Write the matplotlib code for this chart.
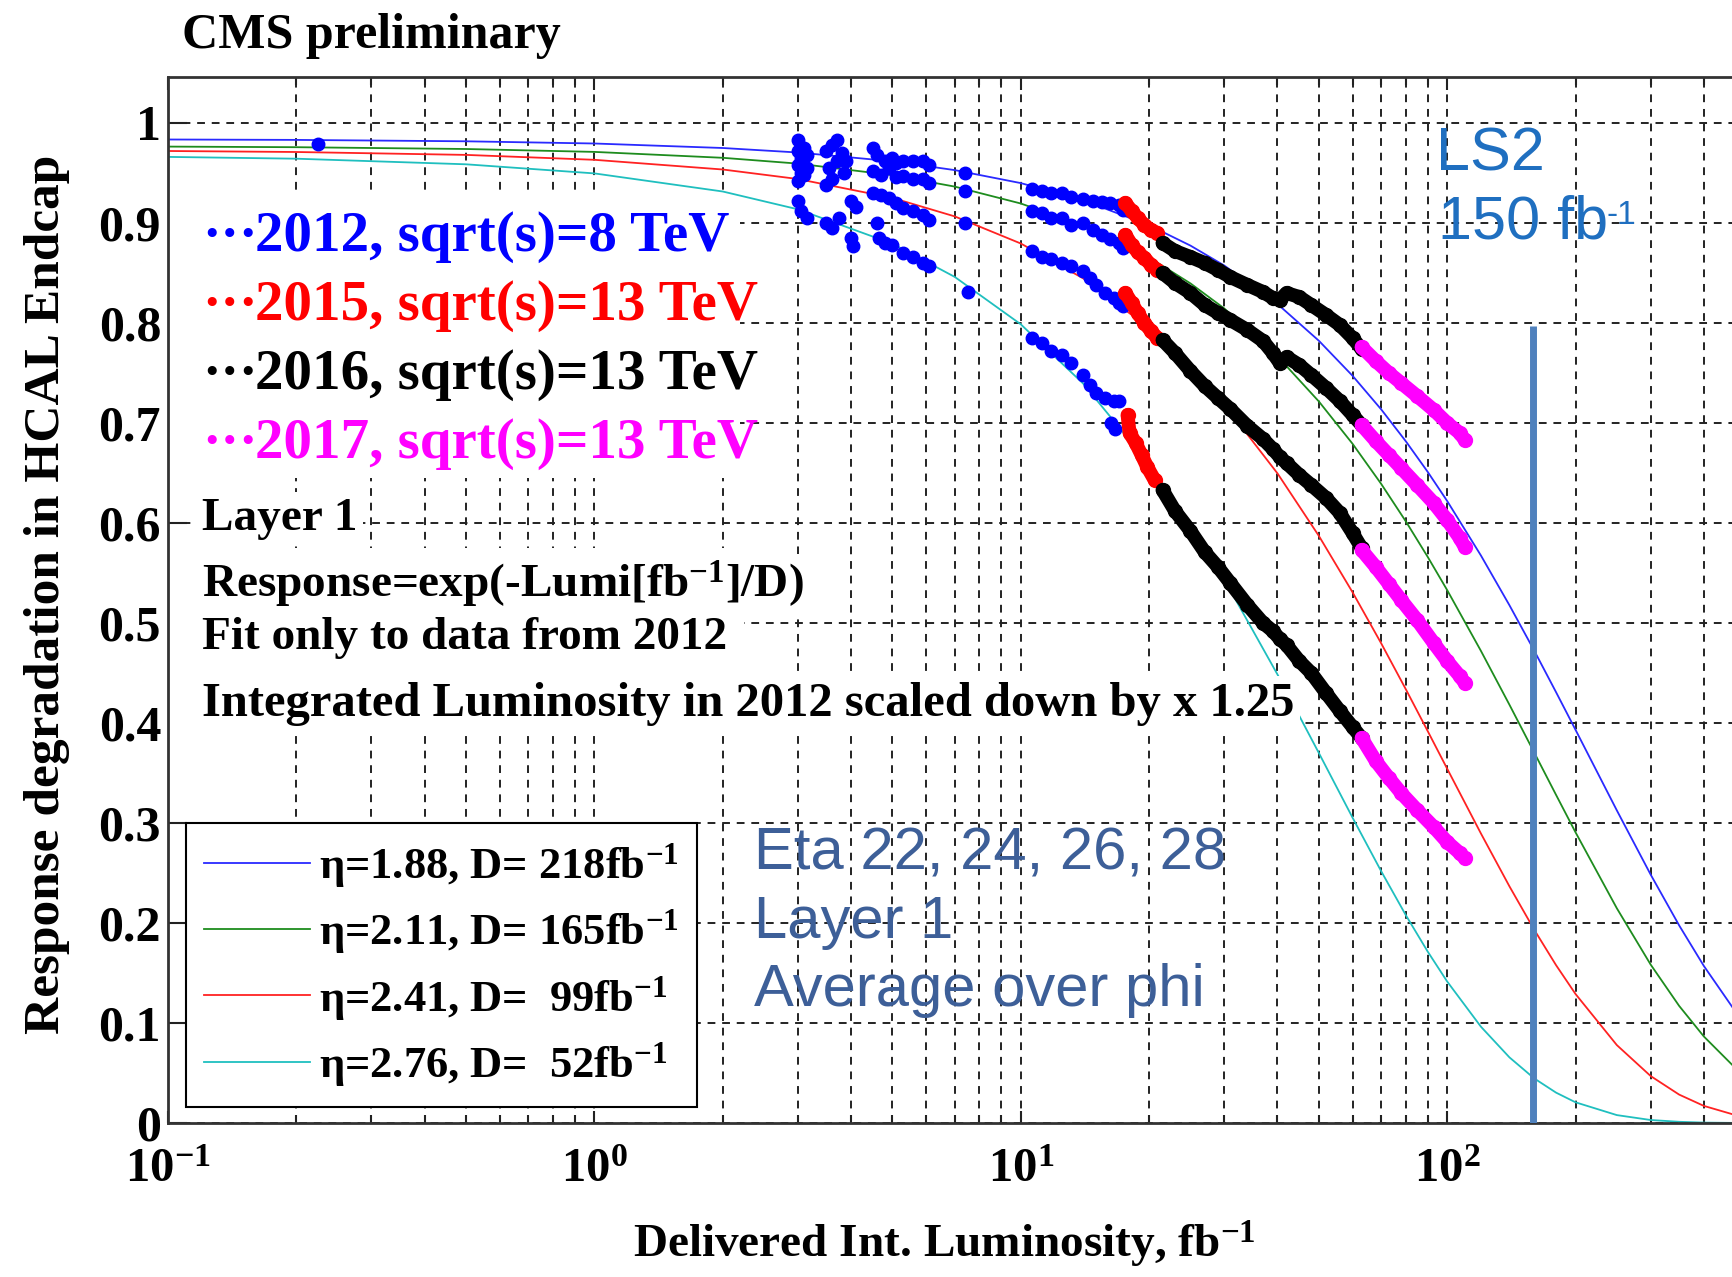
import matplotlib
matplotlib.use('Agg')
import matplotlib.pyplot as plt
from matplotlib.patches import Rectangle
from matplotlib.lines import Line2D
from matplotlib.ticker import NullFormatter

# ---------------- data ----------------
eta_vals = ['1.88', '2.11', '2.41', '2.76']
D_vals = [218, 165, 99, 52]
fit_colors = ['#2a2aff', '#1e8c1e', '#ff2222', '#1fbfbf']

fit_x = [0.1, 0.2, 0.5, 1, 2, 3, 5, 7, 10, 14, 20, 25, 30, 40, 50, 60, 70, 80, 90,
         100, 120, 140, 160, 180, 200, 250, 300, 350, 400, 470]
fit_blue = [0.9835, 0.9831, 0.9817, 0.9795, 0.9750, 0.9705, 0.9617, 0.9529, 0.9399, 0.9228,
            0.8977, 0.8774, 0.8575, 0.8190, 0.7823, 0.7472, 0.7137, 0.6817, 0.6512, 0.6220,
            0.5675, 0.5177, 0.4724, 0.4309, 0.3932, 0.3126, 0.2485, 0.1976, 0.1570, 0.1139]
fit_green = [0.9764, 0.9758, 0.9740, 0.9711, 0.9652, 0.9594, 0.9478, 0.9364, 0.9195, 0.8975,
             0.8655, 0.8396, 0.8146, 0.7667, 0.7216, 0.6792, 0.6392, 0.6016, 0.5662, 0.5329,
             0.4721, 0.4182, 0.3705, 0.3282, 0.2907, 0.2147, 0.1585, 0.1171, 0.0865, 0.0566]
fit_red = [0.9720, 0.9710, 0.9681, 0.9632, 0.9535, 0.9440, 0.9251, 0.9066, 0.8795, 0.8447,
           0.7950, 0.7558, 0.7186, 0.6496, 0.5872, 0.5307, 0.4798, 0.4337, 0.3920, 0.3543,
           0.2895, 0.2366, 0.1933, 0.1579, 0.1290, 0.0779, 0.0470, 0.0284, 0.0171, 0.0084]
fit_cyan = [0.9661, 0.9643, 0.9587, 0.9496, 0.9315, 0.9137, 0.8793, 0.8461, 0.7987, 0.7395,
            0.6589, 0.5985, 0.5437, 0.4485, 0.3701, 0.3053, 0.2519, 0.2078, 0.1715, 0.1415,
            0.0963, 0.0656, 0.0446, 0.0304, 0.0207, 0.0079, 0.0030, 0.0012, 0.0004, 0.0001]

# 2012 data (blue markers), one list per eta ring
b12_x = [0.225, 3.0, 3.0, 3.05, 3.1, 3.15, 3.5, 3.6, 3.7, 3.8, 3.9, 4.5, 4.6, 4.8, 5.0, 5.1,
         5.3, 5.6, 5.9, 6.1, 7.4, 10.6, 11.2, 11.8, 12.5, 13.1, 14.0, 14.8, 15.5, 16.2, 17.0, 17.4]
b12_y = [0.979, 0.983, 0.972, 0.965, 0.975, 0.968, 0.972, 0.978, 0.983, 0.970, 0.962, 0.975,
         0.968, 0.962, 0.965, 0.960, 0.962, 0.962, 0.962, 0.958, 0.950, 0.934, 0.932, 0.930,
         0.930, 0.926, 0.924, 0.922, 0.921, 0.920, 0.918, 0.913]
g12_x = [3.0, 3.05, 3.15, 3.55, 3.7, 3.85, 4.5, 4.7, 4.9, 5.1, 5.3, 5.6, 5.9, 6.1, 7.4,
         10.6, 11.2, 11.8, 12.5, 13.1, 14.0, 14.8, 15.5, 16.2, 17.0, 17.4]
g12_y = [0.958, 0.950, 0.955, 0.955, 0.962, 0.950, 0.952, 0.948, 0.955, 0.946, 0.947, 0.944,
         0.944, 0.940, 0.932, 0.912, 0.910, 0.905, 0.905, 0.898, 0.900, 0.893, 0.888, 0.884,
         0.880, 0.875]
r12_x = [3.0, 3.1, 3.5, 3.6, 4.0, 4.1, 4.5, 4.7, 4.9, 5.1, 5.3, 5.6, 5.9, 6.1, 7.4,
         10.6, 11.2, 11.8, 12.5, 13.1, 14.0, 14.5, 15.0, 15.8, 16.5, 17.0, 17.4]
r12_y = [0.942, 0.948, 0.938, 0.944, 0.922, 0.916, 0.930, 0.928, 0.925, 0.920, 0.915, 0.912,
         0.908, 0.903, 0.900, 0.872, 0.866, 0.864, 0.860, 0.857, 0.852, 0.845, 0.838, 0.830,
         0.825, 0.820, 0.817]
c12_x = [3.0, 3.05, 3.15, 3.5, 3.6, 3.75, 4.0, 4.05, 4.6, 4.65, 4.8, 5.0, 5.3, 5.6, 5.9, 6.1,
         7.5, 10.6, 11.2, 11.8, 12.5, 13.1, 14.0, 14.5, 15.0, 15.8, 16.5, 17.0, 16.3, 16.6]
c12_y = [0.922, 0.912, 0.905, 0.900, 0.895, 0.905, 0.885, 0.877, 0.900, 0.885, 0.880, 0.878,
         0.870, 0.866, 0.860, 0.857, 0.831, 0.785, 0.780, 0.772, 0.768, 0.760, 0.748, 0.738,
         0.730, 0.725, 0.722, 0.722, 0.700, 0.694]

# 2015 data (red)
x15 = [17.6, 18.2, 18.8, 19.5, 20.2, 20.9]
b15_y = [0.920, 0.912, 0.905, 0.898, 0.893, 0.890]
g15_y = [0.888, 0.878, 0.871, 0.865, 0.858, 0.853]
r15_y = [0.830, 0.820, 0.810, 0.800, 0.792, 0.785]
c15_x = [17.8, 18.0, 18.6, 19.2, 19.8, 20.6]
c15_y = [0.708, 0.690, 0.680, 0.668, 0.656, 0.643]

# 2016 data (black)
x16 = [21.5, 23, 25, 27, 29, 31, 34, 37, 39, 40.5, 42, 45, 48, 52, 56, 60, 63]
b16_y = [0.880, 0.872, 0.866, 0.860, 0.853, 0.846, 0.838, 0.831, 0.825, 0.823, 0.830, 0.826,
         0.818, 0.808, 0.798, 0.785, 0.774]
g16_y = [0.850, 0.840, 0.830, 0.818, 0.810, 0.803, 0.793, 0.782, 0.770, 0.760, 0.766, 0.758,
         0.748, 0.735, 0.722, 0.708, 0.698]
r16_y = [0.783, 0.770, 0.752, 0.737, 0.725, 0.714, 0.697, 0.684, 0.674, 0.666, 0.660, 0.648,
         0.638, 0.625, 0.610, 0.590, 0.575]
c16_y = [0.633, 0.612, 0.592, 0.571, 0.556, 0.540, 0.518, 0.500, 0.492, 0.484, 0.478, 0.462,
         0.450, 0.430, 0.412, 0.396, 0.385]

# 2017 data (magenta)
x17 = [63, 68, 73, 78, 85, 93, 100, 107, 110]
b17_y = [0.776, 0.762, 0.750, 0.740, 0.727, 0.713, 0.700, 0.690, 0.683]
g17_y = [0.698, 0.682, 0.668, 0.655, 0.638, 0.620, 0.603, 0.585, 0.576]
r17_y = [0.573, 0.556, 0.539, 0.523, 0.503, 0.480, 0.462, 0.447, 0.440]
c17_y = [0.385, 0.362, 0.345, 0.330, 0.313, 0.296, 0.281, 0.270, 0.265]

ls2_x = 158.9
ls2_top = 0.797

year_labels = ['2012, sqrt(s)=8 TeV', '2015, sqrt(s)=13 TeV',
               '2016, sqrt(s)=13 TeV', '2017, sqrt(s)=13 TeV']
year_colors = ['#0000ff', '#ff0000', '#000000', '#ff00ff']
year_label_y = [0.886, 0.817, 0.748, 0.679]

x_ticks = [0.1, 1, 10, 100]
x_ticklabels = ['$10^{-1}$', '$10^{0}$', '$10^{1}$', '$10^{2}$']
y_ticks = [0, 0.1, 0.2, 0.3, 0.4, 0.5, 0.6, 0.7, 0.8, 0.9, 1.0]
y_ticklabels = ['0', '0.1', '0.2', '0.3', '0.4', '0.5', '0.6', '0.7', '0.8', '0.9', '1']

# ---------------- style ----------------
plt.rcParams['font.family'] = ['Liberation Serif', 'DejaVu Serif']
plt.rcParams['font.weight'] = 'bold'
plt.rcParams['mathtext.fontset'] = 'custom'
plt.rcParams['mathtext.rm'] = 'Liberation Serif:bold'
plt.rcParams['mathtext.bf'] = 'Liberation Serif:bold'
plt.rcParams['mathtext.it'] = 'Liberation Serif:italic:bold'
plt.rcParams['mathtext.sf'] = 'Liberation Sans'
plt.rcParams['mathtext.default'] = 'rm'

W, H = 1732, 1277
fig = plt.figure(figsize=(W / 100, H / 100), dpi=100)
ax = fig.add_axes([168 / W, 1 - 1123 / H, 1 - 168 / W, (1123 - 77) / H])
ax.set_xscale('log')
ax.set_xlim(0.1, 465.6)
ax.set_ylim(0, 1.046)

ax.set_axisbelow(True)
grid_kw = dict(color='#222222', linestyle=(0, (4, 3.5)), linewidth=1.4)
ax.grid(True, which='both', axis='x', **grid_kw)
ax.grid(True, which='major', axis='y', **grid_kw)

ax.set_xticks(x_ticks)
ax.set_xticklabels(x_ticklabels)
ax.xaxis.set_minor_formatter(NullFormatter())
ax.set_yticks(y_ticks)
ax.set_yticklabels(y_ticklabels)
ax.tick_params(axis='both', which='both', direction='in', top=True, right=False,
               color='#222222', width=1.5)
ax.tick_params(axis='x', which='major', length=9, labelsize=35, pad=18)
ax.tick_params(axis='x', which='minor', length=6)
ax.tick_params(axis='y', which='major', length=14, labelsize=36, pad=5)
for s in ['left', 'top', 'bottom']:
    ax.spines[s].set_linewidth(2)
    ax.spines[s].set_color('#333333')
ax.spines['right'].set_visible(False)

ytr = ax.get_yaxis_transform()

# white backgrounds of the annotation blocks
ax.add_patch(Rectangle((0, 0.645), 0.366, 0.285, transform=ytr, fc='white', ec='none', zorder=1))
ax.add_patch(Rectangle((0, 0.395), 0.368, 0.18, transform=ytr, fc='white', ec='none', zorder=1))

# fit curves
for yy, c in zip([fit_blue, fit_green, fit_red, fit_cyan], fit_colors):
    ax.plot(fit_x, yy, color=c, lw=1.3, zorder=1.5)

# data
for xx, yy in [(b12_x, b12_y), (g12_x, g12_y), (r12_x, r12_y), (c12_x, c12_y)]:
    ax.plot(xx, yy, ls='none', marker='o', ms=9, color='#0000ff', zorder=4)
band_kw = dict(lw=10, marker='o', ms=10, solid_capstyle='round', solid_joinstyle='round', zorder=4)
for yy in [b15_y, g15_y, r15_y]:
    ax.plot(x15, yy, color='#ff0000', **band_kw)
ax.plot(c15_x, c15_y, color='#ff0000', **band_kw)
for yy in [b16_y, g16_y, r16_y, c16_y]:
    ax.plot(x16, yy, color='#000000', **band_kw)
for yy in [b17_y, g17_y, r17_y, c17_y]:
    ax.plot(x17, yy, color='#ff00ff', **band_kw)

# LS2 line
ax.vlines(ls2_x, 0, ls2_top, color='#4f81bd', lw=5, zorder=3)

# year legend (coloured text)
for lab, col, yv in zip(year_labels, year_colors, year_label_y):
    ax.text(0.0217, yv, '\u00b7\u00b7\u00b7', color=col, fontsize=40, fontweight='bold',
            transform=ytr, va='center', ha='left', zorder=5)
    ax.text(0.0556, yv, lab, color=col, fontsize=41, fontweight='bold',
            transform=ytr, va='center', ha='left', zorder=5)

tb = dict(boxstyle='square,pad=0.12', fc='white', ec='none')
ax.text(0.0217, 0.604, 'Layer 1', fontsize=34, transform=ytr, va='center', ha='left',
        bbox=tb, zorder=2)
ax.text(0.0217, 0.538, 'Response=exp(-Lumi[fb$^{-1}$]/D)', fontsize=34, transform=ytr,
        va='center', ha='left', bbox=tb, zorder=2)
ax.text(0.0217, 0.485, 'Fit only to data from 2012', fontsize=34, transform=ytr,
        va='center', ha='left', bbox=tb, zorder=2)
ax.text(0.0217, 0.419, 'Integrated Luminosity in 2012 scaled down by x 1.25', fontsize=35,
        transform=ytr, va='center', ha='left', bbox=tb, zorder=2)

# blue annotations
eta_col = '#3d5f98'
for txt, yv in zip(['Eta 22, 24, 26, 28', 'Layer 1', 'Average over phi'], [0.269, 0.201, 0.132]):
    ax.text(2.37, yv, txt, family='Liberation Sans', fontweight='normal', fontsize=43,
            color=eta_col, va='center', ha='left', zorder=5)
ls2_col = '#1f6fc0'
ax.text(94.2, 0.968, 'LS2', family='Liberation Sans', fontweight='normal', fontsize=44,
        color=ls2_col, va='center', ha='left', zorder=5)
ax.text(95.0, 0.900, '150 fb', family='Liberation Sans', fontweight='normal',
        fontsize=44, color=ls2_col, va='center', ha='left', zorder=5)
ax.text(236.0, 0.908, '-1', family='Liberation Sans', fontweight='normal',
        fontsize=24, color=ls2_col, va='center', ha='left', zorder=5)

# curve legend
handles = [Line2D([], [], color=c, lw=1.3) for c in fit_colors]
labels = [f'\u03b7={e}, D={d:>4d}fb$^{{-1}}$' for e, d in zip(eta_vals, D_vals)]
leg = ax.legend(handles, labels, loc='lower left', bbox_to_anchor=(0.0115, 0.0153),
                borderaxespad=0, fontsize=32, handlelength=2.4, handletextpad=0.2,
                labelspacing=0.4, borderpad=0.4, frameon=True, fancybox=False,
                edgecolor='black', framealpha=1)
leg.get_frame().set_linewidth(1.5)
leg.set_zorder(6)

# titles / axis labels
fig.text(182 / W, 1 - 36 / H, 'CMS preliminary', fontsize=36, fontweight='bold',
         ha='left', va='center')
fig.text(47 / W, 1 - 594 / H, 'Response degradation in HCAL Endcap', fontsize=37,
         fontweight='bold', rotation=90, ha='center', va='center')
fig.text(944 / W, 1 - 1244 / H, 'Delivered Int. Luminosity, fb$^{-1}$', fontsize=34,
         fontweight='bold', ha='center', va='center')

fig.savefig('out.png', dpi=100)
